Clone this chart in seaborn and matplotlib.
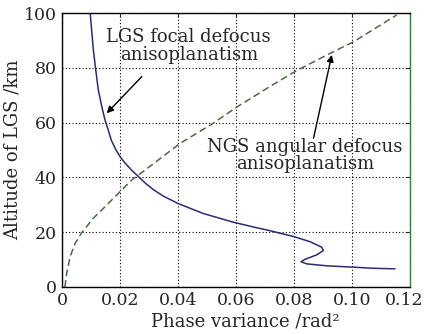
import matplotlib
matplotlib.use("Agg")
import matplotlib.pyplot as plt
import matplotlib.transforms as mtransforms
import seaborn as sns
import pandas as pd

# LGS focal defocus anisoplanatism (solid)
lgs_x = [0.0097, 0.0102, 0.0108, 0.0115, 0.0125, 0.0137, 0.0148, 0.0160, 0.0170, 0.0186,
         0.0200, 0.0215, 0.0240, 0.0263, 0.0288, 0.0315, 0.0350, 0.0401, 0.0487, 0.0591,
         0.0671, 0.0706, 0.0798, 0.0855, 0.0895, 0.0901, 0.0878, 0.0838, 0.0824, 0.0844,
         0.0913, 0.1005, 0.1074, 0.1148]
lgs_y = [100.0, 93.8, 86.5, 80.2, 71.9, 65.8, 61.0, 57.0, 53.5, 50.0,
         47.6, 45.5, 42.6, 40.3, 37.8, 35.5, 33.1, 30.4, 26.8, 23.6,
         21.6, 20.8, 18.4, 16.5, 14.5, 13.3, 11.7, 10.1, 9.2, 8.4,
         7.7, 7.2, 6.8, 6.6]

# NGS angular defocus anisoplanatism (dashed)
ngs_x = [0.0010, 0.0016, 0.0028, 0.0045, 0.0068, 0.0108, 0.0154, 0.0200, 0.0240, 0.0257,
         0.0407, 0.0522, 0.0600, 0.0717, 0.0809, 0.0936, 0.1005, 0.1154]
ngs_y = [0.0, 5.0, 11.1, 15.9, 19.8, 25.1, 29.9, 34.8, 39.0, 40.3,
         52.4, 59.8, 65.5, 73.2, 79.0, 85.9, 89.5, 99.3]

x_ticks = [0, 0.02, 0.04, 0.06, 0.08, 0.10, 0.12]
x_tick_labels = ["0", "0.02", "0.04", "0.06", "0.08", "0.10", "0.12"]
y_ticks = [0, 20, 40, 60, 80, 100]

sns.set_style("white")
plt.rcParams["font.family"] = ["DejaVu Serif"]

fig = plt.figure(figsize=(4.25, 3.34), dpi=100)
ax = fig.add_axes([0.146, 0.141, 0.819, 0.820])

df_lgs = pd.DataFrame({"x": lgs_x, "y": lgs_y})
df_ngs = pd.DataFrame({"x": ngs_x, "y": ngs_y})
sns.lineplot(data=df_lgs, x="x", y="y", sort=False, estimator=None, ax=ax,
             color="#2b2b78", linewidth=1.1)
sns.lineplot(data=df_ngs, x="x", y="y", sort=False, estimator=None, ax=ax,
             color="#4f654f", linewidth=1.1, linestyle=(0, (4.5, 2.5)))

ax.set_xlim(0, 0.12)
ax.set_ylim(0, 100)
ax.set_xticks(x_ticks)
ax.set_xticklabels(x_tick_labels)
ax.set_yticks(y_ticks)
ax.grid(True, color="black", linestyle=(0, (1, 2)), linewidth=0.8)
ax.tick_params(direction="in", length=3, labelsize=12.5, top=True, right=True, pad=4)
ax.set_xlabel("Phase variance /rad²", fontsize=13, labelpad=0)
ax.xaxis.set_label_coords((245 - 62) / 348, -0.095)
ax.set_ylabel("Altitude of LGS /km", fontsize=13, labelpad=1)
for side in ["left", "bottom", "top"]:
    ax.spines[side].set_color("black")
    ax.spines[side].set_linewidth(1.0)
ax.spines["right"].set_color("#3a7a3a")
ax.spines["right"].set_linewidth(1.0)

# shift last x tick label left slightly so it stays inside the figure
last = ax.get_xticklabels()[-1]
last.set_transform(last.get_transform() + mtransforms.ScaledTranslation(-0.06, 0, fig.dpi_scale_trans))

ax.text(0.0437, 88, "LGS focal defocus\nanisoplanatism", ha="center", va="center",
        fontsize=13, linespacing=0.95)
ax.annotate("", xy=(0.0154, 63.4), xytext=(0.0275, 76.8),
            arrowprops=dict(arrowstyle="-|>", color="black", lw=1.0,
                            shrinkA=0, shrinkB=0, mutation_scale=10))
ax.text(0.0838, 47.9, "NGS angular defocus\nanisoplanatism", ha="center", va="center",
        fontsize=13, linespacing=0.95)
ax.annotate("", xy=(0.0930, 84.7), xytext=(0.0867, 54.3),
            arrowprops=dict(arrowstyle="-|>", color="black", lw=1.0,
                            shrinkA=0, shrinkB=0, mutation_scale=10))

fig.savefig("out.png", dpi=100)
